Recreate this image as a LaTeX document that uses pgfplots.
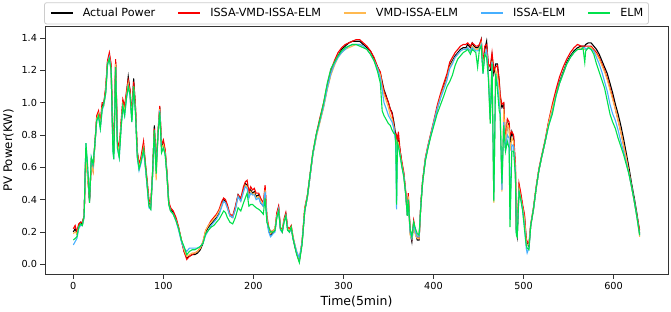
\documentclass[border=0pt]{standalone}
\usepackage{fontspec}
\setmainfont{DejaVu Sans}
\usepackage{pgfplots}
\pgfplotsset{compat=1.18}
\usepackage{pgfplotstable}
\definecolor{cOr}{RGB}{255,185,80}
\definecolor{cBl}{RGB}{70,175,255}
\definecolor{cGr}{RGB}{0,225,75}
\definecolor{cRd}{RGB}{250,0,0}
\pgfplotstableread{
x a r o b g
0 0.20 0.22 0.19 0.12 0.15
2 0.22 0.24 0.20 0.14 0.16
4 0.19 0.20 0.19 0.16 0.17
6 0.24 0.25 0.23 0.22 0.23
8 0.26 0.26 0.25 0.24 0.25
10 0.25 0.26 0.24 0.24 0.24
12 0.30 0.30 0.29 0.29 0.30
14 0.72 0.70 0.70 0.75 0.75
16 0.55 0.53 0.52 0.58 0.60
18 0.39 0.40 0.43 0.40 0.38
20 0.64 0.63 0.62 0.66 0.66
22 0.60 0.58 0.57 0.61 0.62
24 0.75 0.75 0.74 0.74 0.75
26 0.90 0.92 0.90 0.89 0.89
28 0.93 0.95 0.93 0.91 0.92
30 0.86 0.88 0.86 0.84 0.84
32 0.98 1.00 0.97 0.95 0.96
34 1.00 1.00 0.98 0.99 1.00
36 1.08 1.10 1.07 1.06 1.06
38 1.25 1.26 1.24 1.23 1.24
40 1.29 1.31 1.28 1.28 1.27
42 1.22 1.24 1.20 1.20 1.20
44 0.75 0.74 0.72 0.70 0.70
45 0.70 0.72 0.68 0.65 0.65
47 1.25 1.27 1.24 1.22 1.22
49 0.75 0.77 0.74 0.72 0.72
51 0.70 0.72 0.70 0.66 0.66
53 0.86 0.88 0.85 0.84 0.84
55 1.00 1.02 0.99 0.97 0.98
57 0.96 0.98 0.95 0.92 0.92
59 1.05 1.07 1.04 1.02 1.03
61 1.16 1.14 1.12 1.10 1.10
63 1.07 1.08 1.05 1.04 1.05
65 0.91 0.92 0.90 0.88 0.88
67 1.15 1.13 1.10 1.08 1.10
69 0.97 0.98 0.95 0.94 0.94
71 0.70 0.70 0.68 0.66 0.67
73 0.60 0.62 0.60 0.58 0.59
75 0.64 0.66 0.64 0.62 0.63
78 0.73 0.76 0.72 0.70 0.71
80 0.61 0.63 0.60 0.60 0.62
82 0.50 0.52 0.49 0.48 0.49
84 0.38 0.40 0.37 0.35 0.36
86 0.36 0.38 0.35 0.34 0.34
88 0.55 0.57 0.55 0.55 0.57
90 0.86 0.84 0.82 0.80 0.83
92 0.60 0.62 0.52 0.58 0.56
94 0.80 0.82 0.80 0.80 0.80
96 0.97 0.98 0.96 0.95 0.94
98 0.73 0.74 0.72 0.70 0.69
100 0.75 0.77 0.74 0.72 0.72
102 0.70 0.71 0.69 0.68 0.68
104 0.56 0.57 0.55 0.55 0.55
106 0.38 0.39 0.37 0.37 0.37
108 0.34 0.35 0.33 0.33 0.33
111 0.32 0.33 0.31 0.31 0.31
114 0.28 0.29 0.27 0.27 0.27
117 0.22 0.23 0.22 0.21 0.22
120 0.15 0.15 0.15 0.14 0.15
123 0.08 0.08 0.09 0.10 0.11
126 0.04 0.03 0.05 0.08 0.06
129 0.05 0.05 0.06 0.10 0.08
132 0.06 0.06 0.07 0.10 0.09
135 0.06 0.07 0.07 0.10 0.09
138 0.07 0.08 0.08 0.10 0.10
141 0.09 0.10 0.10 0.11 0.11
144 0.13 0.14 0.14 0.13 0.13
147 0.20 0.21 0.21 0.18 0.19
150 0.23 0.24 0.24 0.21 0.21
153 0.25 0.27 0.26 0.24 0.23
156 0.27 0.29 0.28 0.26 0.24
159 0.29 0.31 0.30 0.28 0.26
162 0.32 0.34 0.33 0.31 0.28
165 0.37 0.39 0.37 0.36 0.31
167 0.40 0.41 0.39 0.39 0.33
169 0.39 0.40 0.38 0.38 0.32
171 0.36 0.37 0.35 0.35 0.29
174 0.30 0.31 0.30 0.30 0.26
177 0.29 0.30 0.29 0.29 0.25
180 0.35 0.36 0.34 0.34 0.29
183 0.43 0.43 0.42 0.42 0.35
186 0.40 0.41 0.39 0.39 0.33
189 0.46 0.48 0.45 0.45 0.38
191 0.50 0.51 0.49 0.48 0.41
193 0.49 0.52 0.48 0.47 0.44
195 0.43 0.45 0.42 0.41 0.36
197 0.46 0.48 0.45 0.44 0.37
199 0.44 0.46 0.43 0.43 0.37
201 0.45 0.47 0.44 0.43 0.36
203 0.42 0.44 0.41 0.40 0.35
206 0.43 0.44 0.42 0.41 0.34
208 0.38 0.41 0.39 0.38 0.33
211 0.36 0.38 0.37 0.36 0.31
213 0.46 0.49 0.46 0.45 0.41
215 0.28 0.30 0.28 0.27 0.26
217 0.21 0.23 0.22 0.20 0.23
219 0.18 0.20 0.19 0.17 0.20
222 0.20 0.21 0.21 0.19 0.20
224 0.21 0.22 0.22 0.20 0.21
226 0.30 0.32 0.30 0.29 0.29
228 0.35 0.36 0.34 0.34 0.33
230 0.22 0.23 0.22 0.21 0.22
232 0.20 0.21 0.21 0.20 0.20
234 0.27 0.28 0.27 0.26 0.26
236 0.31 0.32 0.30 0.30 0.30
238 0.22 0.23 0.22 0.21 0.21
240 0.20 0.22 0.21 0.20 0.20
242 0.23 0.24 0.23 0.22 0.23
244 0.16 0.17 0.17 0.16 0.16
246 0.11 0.12 0.12 0.12 0.11
248 0.07 0.07 0.08 0.08 0.06
251 0.02 0.03 0.03 0.04 0.01
254 0.13 0.14 0.13 0.13 0.12
257 0.33 0.35 0.34 0.33 0.33
260 0.42 0.43 0.42 0.42 0.42
263 0.55 0.56 0.55 0.55 0.56
266 0.68 0.69 0.68 0.68 0.69
270 0.80 0.81 0.79 0.80 0.81
274 0.89 0.91 0.88 0.89 0.90
278 0.98 1.00 0.97 0.98 1.00
282 1.09 1.11 1.08 1.09 1.12
286 1.18 1.20 1.17 1.18 1.21
290 1.24 1.26 1.23 1.24 1.25
294 1.29 1.31 1.28 1.28 1.29
298 1.33 1.34 1.31 1.31 1.32
302 1.35 1.36 1.33 1.33 1.34
306 1.37 1.37 1.34 1.35 1.35
310 1.38 1.38 1.35 1.36 1.36
314 1.38 1.39 1.36 1.36 1.36
318 1.38 1.39 1.36 1.36 1.35
322 1.36 1.37 1.35 1.35 1.34
326 1.34 1.35 1.33 1.33 1.33
330 1.32 1.32 1.30 1.30 1.30
334 1.27 1.28 1.26 1.26 1.26
338 1.22 1.22 1.21 1.21 1.19
341 1.18 1.19 1.17 1.15 1.12
343 1.13 1.12 1.10 1.08 0.95
345 1.08 1.07 1.05 1.00 0.92
347 1.05 1.04 1.02 0.97 0.90
350 1.00 1.00 0.97 0.92 0.87
352 0.96 0.96 0.92 0.90 0.86
354 0.94 0.93 0.90 0.88 0.83
356 0.88 0.86 0.85 0.84 0.81
358 0.80 0.78 0.76 0.75 0.80
359 0.79 0.80 0.75 0.34 0.37
360 0.77 0.76 0.74 0.74 0.75
361 0.77 0.82 0.75 0.73 0.73
363 0.70 0.70 0.68 0.67 0.67
365 0.62 0.63 0.61 0.60 0.60
367 0.56 0.57 0.55 0.55 0.54
369 0.45 0.46 0.44 0.44 0.44
371 0.30 0.32 0.30 0.30 0.30
372 0.42 0.44 0.42 0.40 0.40
374 0.20 0.22 0.18 0.20 0.22
376 0.14 0.16 0.16 0.16 0.17
378 0.26 0.27 0.25 0.25 0.26
380 0.19 0.20 0.18 0.20 0.22
382 0.15 0.17 0.16 0.17 0.19
384 0.15 0.16 0.16 0.17 0.18
386 0.38 0.38 0.37 0.37 0.36
388 0.52 0.52 0.51 0.51 0.51
391 0.65 0.66 0.65 0.65 0.64
394 0.73 0.74 0.73 0.73 0.72
397 0.80 0.81 0.80 0.80 0.79
400 0.87 0.88 0.87 0.87 0.85
404 0.96 0.98 0.96 0.96 0.93
408 1.04 1.06 1.04 1.03 0.99
412 1.11 1.13 1.10 1.09 1.05
415 1.16 1.18 1.15 1.14 1.10
418 1.23 1.25 1.22 1.21 1.13
421 1.26 1.28 1.25 1.24 1.17
424 1.29 1.31 1.28 1.28 1.23
427 1.31 1.33 1.30 1.30 1.27
430 1.33 1.35 1.32 1.32 1.29
433 1.34 1.36 1.33 1.33 1.31
436 1.34 1.36 1.33 1.33 1.32
438 1.36 1.37 1.34 1.34 1.33
441 1.34 1.35 1.32 1.32 1.30
443 1.37 1.37 1.35 1.34 1.33
445 1.35 1.36 1.34 1.33 1.32
447 1.34 1.35 1.33 1.32 1.31
449 1.34 1.35 1.33 1.32 1.22
451 1.35 1.36 1.34 1.33 1.33
453 1.39 1.39 1.37 1.36 1.35
455 1.20 1.25 1.22 1.18 1.18
457 1.33 1.35 1.30 1.30 1.30
459 1.38 1.36 1.32 1.32 1.28
461 1.20 1.24 1.18 1.16 1.15
463 1.20 1.22 0.89 0.90 0.87
465 1.29 1.31 1.26 1.25 1.24
467 1.18 1.20 0.38 0.40 0.39
469 1.24 1.22 1.20 1.18 1.18
471 1.24 1.23 1.17 1.12 1.08
473 1.13 1.14 1.08 1.00 0.95
474 1.03 1.05 1.00 0.96 0.93
476 0.97 0.99 0.45 0.46 0.50
478 0.99 1.00 0.96 0.88 0.86
480 0.72 0.75 0.72 0.70 0.70
482 0.88 0.90 0.87 0.80 0.76
484 0.86 0.88 0.84 0.78 0.72
485 0.75 0.80 0.70 0.28 0.23
487 0.82 0.82 0.78 0.74 0.70
489 0.78 0.80 0.76 0.73 0.70
491 0.58 0.62 0.58 0.56 0.55
492 0.20 0.25 0.22 0.19 0.18
493 0.17 0.20 0.19 0.18 0.17
495 0.48 0.50 0.47 0.45 0.45
497 0.42 0.44 0.41 0.40 0.40
499 0.35 0.37 0.35 0.34 0.33
501 0.30 0.31 0.28 0.24 0.22
503 0.15 0.16 0.14 0.10 0.12
504 0.13 0.14 0.12 0.07 0.10
506 0.11 0.13 0.12 0.10 0.09
508 0.24 0.25 0.24 0.24 0.24
511 0.34 0.35 0.34 0.34 0.34
514 0.47 0.48 0.47 0.47 0.47
517 0.58 0.59 0.58 0.58 0.58
520 0.66 0.67 0.66 0.66 0.66
524 0.76 0.77 0.76 0.76 0.76
528 0.88 0.89 0.88 0.86 0.86
532 0.97 0.99 0.97 0.94 0.93
536 1.05 1.08 1.05 1.04 1.04
540 1.13 1.16 1.12 1.12 1.12
544 1.19 1.22 1.18 1.18 1.18
548 1.25 1.27 1.24 1.24 1.24
552 1.29 1.31 1.28 1.28 1.28
556 1.32 1.34 1.31 1.31 1.31
560 1.34 1.36 1.33 1.33 1.33
564 1.35 1.35 1.34 1.33 1.33
566 1.35 1.35 1.33 1.34 1.34
568 1.35 1.35 1.33 1.34 1.25
569 1.36 1.35 1.33 1.33 1.32
572 1.37 1.35 1.34 1.34 1.34
575 1.37 1.35 1.34 1.33 1.33
578 1.35 1.33 1.32 1.32 1.30
581 1.33 1.31 1.30 1.28 1.24
584 1.30 1.28 1.27 1.24 1.19
587 1.26 1.24 1.23 1.19 1.14
590 1.22 1.20 1.19 1.13 1.09
593 1.18 1.15 1.14 1.07 1.01
596 1.12 1.09 1.08 0.99 0.93
599 1.06 1.03 1.02 0.93 0.88
602 0.99 0.96 0.96 0.89 0.84
605 0.93 0.89 0.89 0.83 0.78
608 0.86 0.82 0.82 0.76 0.73
611 0.78 0.74 0.74 0.70 0.68
614 0.69 0.66 0.66 0.63 0.62
617 0.60 0.57 0.57 0.56 0.56
620 0.50 0.48 0.48 0.48 0.48
623 0.41 0.39 0.39 0.39 0.39
626 0.31 0.30 0.29 0.29 0.29
629 0.19 0.21 0.17 0.18 0.18
}\datatable
\begin{document}
\begin{tikzpicture}
\begin{axis}[
 scale only axis, width=623pt, height=247.3pt,
 xmin=-31.45, xmax=660.45, ymin=-0.06, ymax=1.47,
 xtick={0,100,200,300,400,500,600},
 ytick={0,0.2,0.4,0.6,0.8,1.0,1.2,1.4},
 yticklabel style={/pgf/number format/fixed, /pgf/number format/fixed zerofill, /pgf/number format/precision=1},
 /pgf/number format/assume math mode=true,
 tick align=outside, tick pos=left, major tick length=4.5pt,
 tick style={black!80, line width=0.8pt},
 axis line style={black!80, line width=0.8pt},
 ticklabel style={font=\fontsize{9.7}{11}\selectfont},
 xlabel={Time(5min)}, ylabel={PV Power(KW)},
 xlabel style={at={(axis description cs:0.5,-0.112)}, anchor=center, font=\fontsize{12.5}{14}\selectfont},
 ylabel style={at={(axis description cs:-0.0586,0.5)}, anchor=center, font=\fontsize{11.8}{14}\selectfont},
 legend columns=5,
 legend style={name=lgd, at={(0.484,1.097)}, anchor=north, font=\fontsize{11.2}{13}\selectfont,
   draw=none, fill=white, inner xsep=5pt, inner ysep=5pt,
   nodes={inner sep=0pt, text height=8.5pt, text depth=2.3pt},
   /tikz/every odd column/.append style={column sep=9pt},
   /tikz/every even column/.append style={column sep=22pt}},
 legend image code/.code={\draw[#1, line width=2pt] (0pt,0pt) -- (22pt,0pt);},
 every axis plot/.append style={line width=1.1pt},
]
\addplot[color=black] table[x=x,y=a] {\datatable};
\addlegendentry{Actual Power}
\addplot[color=cRd] table[x=x,y=r] {\datatable};
\addlegendentry{ISSA-VMD-ISSA-ELM}
\addplot[color=cOr] table[x=x,y=o] {\datatable};
\addlegendentry{VMD-ISSA-ELM}
\addplot[color=cBl] table[x=x,y=b] {\datatable};
\addlegendentry{ISSA-ELM}
\addplot[color=cGr] table[x=x,y=g] {\datatable};
\addlegendentry{ELM}
\end{axis}
\draw[black!20, line width=0.8pt, rounded corners=2pt] (lgd.south west) rectangle (lgd.north east);
\pgfresetboundingbox
\path[use as bounding box] ([xshift=-45pt,yshift=-37pt]current axis.south west) rectangle ([xshift=3pt,yshift=26.7pt]current axis.north east);
\end{tikzpicture}
\end{document}
